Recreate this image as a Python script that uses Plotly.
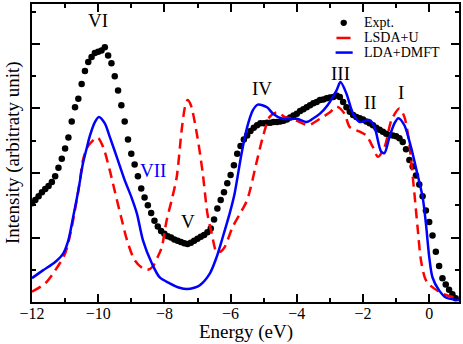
import plotly.graph_objects as go

# Experimental spectrum, sampled every 0.1 eV from -12.0 to 0.8
expt_x = [round(-12.0 + 0.1 * i, 1) for i in range(129)]
expt_y = [
    1.53, 1.58, 1.64, 1.70, 1.75, 1.80, 1.86, 1.95, 2.08, 2.22,   # -12.0 .. -11.1
    2.38, 2.55, 2.80, 3.02, 3.15, 3.38, 3.58, 3.72, 3.80, 3.86,   # -11.0 .. -10.1
    3.88, 3.90, 3.95, 3.82, 3.70, 3.50, 3.28, 3.05, 2.80, 2.52,   # -10.0 .. -9.1
    2.30, 2.13, 1.95, 1.76, 1.62, 1.50, 1.38, 1.26, 1.17, 1.10,   # -9.0 .. -8.1
    1.06, 1.02, 1.00, 0.97, 0.95, 0.93, 0.91, 0.90, 0.92, 0.95,   # -8.0 .. -7.1
    0.98, 1.01, 1.04, 1.08, 1.14, 1.28, 1.45, 1.58, 1.70, 1.84,   # -7.0 .. -6.1
    1.97, 2.12, 2.30, 2.42, 2.52, 2.58, 2.65, 2.70, 2.74, 2.77,   # -6.0 .. -5.1
    2.77, 2.78, 2.78, 2.79, 2.79, 2.80, 2.81, 2.83, 2.86, 2.89,   # -5.0 .. -4.1
    2.92, 2.96, 2.99, 3.02, 3.05, 3.08, 3.10, 3.13, 3.14, 3.16,   # -4.0 .. -3.1
    3.17, 3.18, 3.20, 3.18, 3.10, 3.02, 2.95, 2.90, 2.87, 2.85,   # -3.0 .. -2.1
    2.83, 2.80, 2.77, 2.74, 2.70, 2.67, 2.64, 2.61, 2.59, 2.58,   # -2.0 .. -1.1
    2.57, 2.54, 2.48, 2.37, 2.20, 2.10, 1.96, 1.82, 1.64, 1.42,   # -1.0 .. -0.1
    1.24, 1.03, 0.78, 0.56, 0.37, 0.27, 0.19, 0.12, 0.06,         # 0.0 .. 0.8
]

# LSDA+U
lsda_x = [-12.0, -11.6, -11.3, -11.0, -10.8, -10.65, -10.55, -10.46, -10.3, -10.02,
          -9.85, -9.65, -9.5, -9.3, -9.13, -8.9, -8.65, -8.5, -8.35, -8.2,
          -8.08, -7.93, -7.78, -7.63, -7.48, -7.38, -7.3, -7.2, -7.0, -6.84,
          -6.7, -6.57, -6.42, -6.3, -6.18, -5.94, -5.66, -5.5, -5.2, -5.03,
          -4.82, -4.6, -4.37, -4.13, -3.83, -3.65, -3.3, -3.0, -2.8, -2.56,
          -2.4, -2.1, -1.9, -1.7, -1.55, -1.35, -1.14, -0.9, -0.75, -0.6,
          -0.55, -0.45, -0.35, -0.25, -0.12, 0.0, 0.4, 0.9]
lsda_y = [0.16, 0.29, 0.49, 0.75, 1.16, 1.58, 1.89, 2.2, 2.42, 2.55,
          2.4, 2.04, 1.72, 1.3, 0.96, 0.65, 0.52, 0.5, 0.55, 0.7,
          0.85, 1.27, 1.58, 1.93, 2.66, 3.02, 3.13, 3.05, 2.55, 1.99,
          1.37, 1.06, 0.77, 0.78, 0.85, 1.16, 1.42, 1.58, 2.2, 2.55,
          2.87, 2.94, 2.87, 2.84, 2.77, 2.74, 2.84, 2.94, 3.03, 2.92,
          2.71, 2.64, 2.58, 2.4, 2.25, 2.4, 2.82, 3.0, 2.87, 2.45,
          2.2, 1.7, 1.15, 0.65, 0.36, 0.27, 0.13, 0.05]

# LDA+DMFT
dmft_x = [-12.0, -11.67, -11.3, -11.06, -10.9, -10.76, -10.6, -10.46, -10.34, -10.25,
          -10.1, -9.98, -9.8, -9.65, -9.44, -9.2, -9.0, -8.83, -8.65, -8.38,
          -8.14, -7.84, -7.54, -7.32, -7.1, -6.93, -6.63, -6.42, -6.24, -6.03,
          -5.88, -5.67, -5.5, -5.33, -5.18, -4.9, -4.72, -4.43, -4.0, -3.7,
          -3.52, -3.3, -3.07, -2.8, -2.68, -2.5, -2.3, -2.1, -1.8, -1.65,
          -1.45, -1.35, -1.2, -1.05, -0.93, -0.75, -0.55, -0.36, -0.2, -0.1,
          0.0, 0.1, 0.3, 0.5, 0.9]
dmft_y = [0.37, 0.49, 0.62, 0.75, 0.96, 1.31, 1.73, 2.15, 2.4, 2.58,
          2.79, 2.87, 2.77, 2.56, 2.25, 1.89, 1.63, 1.37, 0.96, 0.6,
          0.38, 0.29, 0.22, 0.2, 0.22, 0.26, 0.44, 0.7, 1.0, 1.37,
          1.68, 2.3, 2.71, 2.97, 3.06, 3.02, 2.92, 2.84, 2.84, 2.79,
          2.84, 2.92, 3.05, 3.28, 3.41, 3.23, 2.92, 2.79, 2.82, 2.71,
          2.33, 2.31, 2.56, 2.77, 2.85, 2.74, 2.4, 1.99, 1.63, 1.22,
          0.7, 0.38, 0.18, 0.07, 0.03]

# peak labels
peak_labels = ["VI", "VII", "V", "IV", "III", "II", "I"]
peak_x = [-10.0, -8.35, -7.3, -5.06, -2.68, -1.77, -0.84]
peak_y = [4.37, 2.04, 1.25, 3.31, 3.54, 3.1, 3.25]
peak_colors = ["black", "blue", "black", "black", "black", "black", "black"]

legend_names = ["Expt.", "LSDA+U", "LDA+DMFT"]

serif = "Liberation Serif, Times New Roman, serif"
RED = "#ff0000"
BLUE = "#0000ff"

fig = go.Figure()
fig.add_trace(go.Scatter(x=expt_x, y=expt_y, mode="markers", name=legend_names[0],
                         marker=dict(color="black", size=6.5)))
fig.add_trace(go.Scatter(x=lsda_x, y=lsda_y, mode="lines", name=legend_names[1],
                         line=dict(color=RED, width=2.5, dash="10px,6px",
                                   shape="spline", smoothing=0.8)))
fig.add_trace(go.Scatter(x=dmft_x, y=dmft_y, mode="lines", name=legend_names[2],
                         line=dict(color=BLUE, width=2.5,
                                   shape="spline", smoothing=0.8)))

for txt, px, py, c in zip(peak_labels, peak_x, peak_y, peak_colors):
    fig.add_annotation(x=px, y=py, text=txt, showarrow=False,
                       font=dict(family=serif, size=19, color=c))

# compact legend drawn by hand (plotly's own rows are too far apart)
leg_rows = [0.937, 0.886, 0.837]
fig.add_shape(type="circle", xref="paper", yref="paper",
              x0=0.73 - 0.0075, x1=0.73 + 0.0075,
              y0=leg_rows[0] - 0.0105, y1=leg_rows[0] + 0.0105,
              fillcolor="black", line=dict(width=0))
fig.add_shape(type="line", xref="paper", yref="paper", x0=0.713, x1=0.746,
              y0=leg_rows[1], y1=leg_rows[1], line=dict(color=RED, width=2.5))
fig.add_shape(type="line", xref="paper", yref="paper", x0=0.711, x1=0.751,
              y0=leg_rows[2], y1=leg_rows[2], line=dict(color=BLUE, width=2.5))
for name, ry in zip(legend_names, leg_rows):
    fig.add_annotation(xref="paper", yref="paper", x=0.772, y=ry, text=name,
                       xanchor="left", yanchor="middle", showarrow=False,
                       font=dict(family=serif, size=14, color="black"))

fig.add_annotation(xref="paper", yref="paper", x=0.5, y=0, yshift=-30,
                   xanchor="center", yanchor="middle",
                   text="Energy (eV)", showarrow=False,
                   font=dict(family=serif, size=19, color="black"))
fig.add_annotation(xref="paper", yref="paper", x=0, y=0.5, xshift=-19,
                   xanchor="center", yanchor="middle",
                   text="Intensity (arbitraty unit)", textangle=-90, showarrow=False,
                   font=dict(family=serif, size=19, color="black"))

axis_common = dict(showline=True, linecolor="black", linewidth=2, mirror="ticks",
                   ticks="inside", tickwidth=2, tickcolor="black", ticklen=8,
                   showgrid=False, zeroline=False)
fig.update_xaxes(range=[-12, 0.9], dtick=2, tick0=0,
                 tickfont=dict(family=serif, size=16, color="black"),
                 ticklabelstandoff=-4,
                 minor=dict(ticks="inside", dtick=1, ticklen=4, tickwidth=2,
                            tickcolor="black", showgrid=False),
                 **axis_common)
fig.update_yaxes(range=[0, 4.62], dtick=1, tick0=0, showticklabels=False,
                 minor=dict(ticks="inside", dtick=0.5, ticklen=4, tickwidth=2,
                            tickcolor="black", showgrid=False),
                 **axis_common)

fig.update_layout(
    width=463, height=344,
    margin=dict(l=32, r=2, t=4, b=42),
    plot_bgcolor="white", paper_bgcolor="white",
    showlegend=False,
)

# drop the default page margin so the figure sits at the window corner
fig.write_html("out.html", config={"displayModeBar": False},
               post_script="document.body.style.margin='0px';")
